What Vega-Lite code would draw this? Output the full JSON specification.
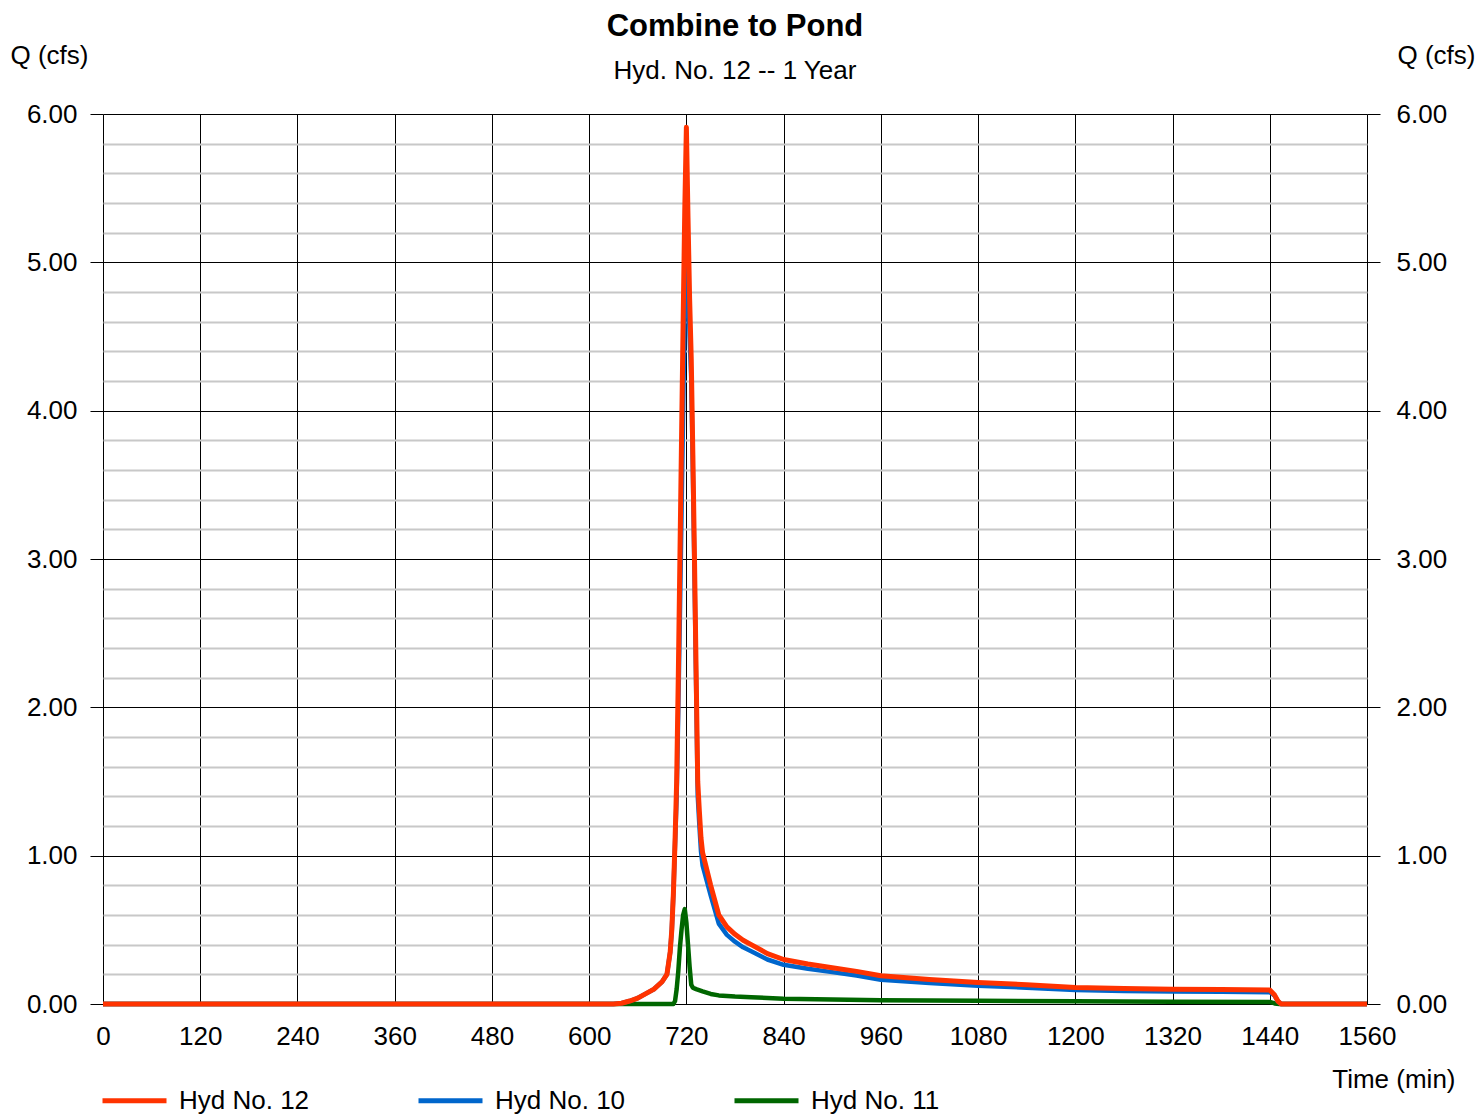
{
  "$schema": "https://vega.github.io/schema/vega-lite/v6.json",
  "autosize": "none",
  "width": 1264,
  "height": 890,
  "padding": {"left": 103, "top": 114, "right": 111, "bottom": 110},
  "background": "white",
  "config": {
    "font": "Liberation Sans",
    "view": {"stroke": null},
    "axis": {"labelColor": "black", "titleColor": "black", "labelFont": "Liberation Sans", "titleFont": "Liberation Sans"}
  },
  "title": {
    "text": "Combine to Pond",
    "subtitle": "Hyd. No. 12 -- 1 Year",
    "anchor": "middle",
    "font": "Liberation Sans",
    "fontSize": 31,
    "fontWeight": "bold",
    "color": "black",
    "subtitleFont": "Liberation Sans",
    "subtitleFontSize": 26,
    "subtitleColor": "black",
    "subtitlePadding": 15,
    "offset": -43
  },
  "data": {
    "values": [
      {"t": 0, "q": 0, "s": "Hyd No. 11"},
      {"t": 700, "q": 0, "s": "Hyd No. 11"},
      {"t": 704, "q": 0.0, "s": "Hyd No. 11"},
      {"t": 706, "q": 0.02, "s": "Hyd No. 11"},
      {"t": 708, "q": 0.1, "s": "Hyd No. 11"},
      {"t": 710, "q": 0.22, "s": "Hyd No. 11"},
      {"t": 712, "q": 0.38, "s": "Hyd No. 11"},
      {"t": 714, "q": 0.5, "s": "Hyd No. 11"},
      {"t": 716, "q": 0.6, "s": "Hyd No. 11"},
      {"t": 718, "q": 0.64, "s": "Hyd No. 11"},
      {"t": 720, "q": 0.55, "s": "Hyd No. 11"},
      {"t": 722, "q": 0.4, "s": "Hyd No. 11"},
      {"t": 724, "q": 0.25, "s": "Hyd No. 11"},
      {"t": 726, "q": 0.13, "s": "Hyd No. 11"},
      {"t": 728, "q": 0.11, "s": "Hyd No. 11"},
      {"t": 732, "q": 0.1, "s": "Hyd No. 11"},
      {"t": 740, "q": 0.085, "s": "Hyd No. 11"},
      {"t": 750, "q": 0.068, "s": "Hyd No. 11"},
      {"t": 760, "q": 0.058, "s": "Hyd No. 11"},
      {"t": 780, "q": 0.05, "s": "Hyd No. 11"},
      {"t": 800, "q": 0.045, "s": "Hyd No. 11"},
      {"t": 840, "q": 0.036, "s": "Hyd No. 11"},
      {"t": 900, "q": 0.03, "s": "Hyd No. 11"},
      {"t": 960, "q": 0.026, "s": "Hyd No. 11"},
      {"t": 1080, "q": 0.022, "s": "Hyd No. 11"},
      {"t": 1200, "q": 0.018, "s": "Hyd No. 11"},
      {"t": 1320, "q": 0.016, "s": "Hyd No. 11"},
      {"t": 1440, "q": 0.014, "s": "Hyd No. 11"},
      {"t": 1446, "q": 0.004, "s": "Hyd No. 11"},
      {"t": 1452, "q": 0, "s": "Hyd No. 11"},
      {"t": 1560, "q": 0, "s": "Hyd No. 11"},

      {"t": 0, "q": 0, "s": "Hyd No. 10"},
      {"t": 630, "q": 0, "s": "Hyd No. 10"},
      {"t": 640, "q": 0.005, "s": "Hyd No. 10"},
      {"t": 650, "q": 0.02, "s": "Hyd No. 10"},
      {"t": 660, "q": 0.04, "s": "Hyd No. 10"},
      {"t": 670, "q": 0.07, "s": "Hyd No. 10"},
      {"t": 680, "q": 0.1, "s": "Hyd No. 10"},
      {"t": 690, "q": 0.15, "s": "Hyd No. 10"},
      {"t": 696, "q": 0.2, "s": "Hyd No. 10"},
      {"t": 700, "q": 0.35, "s": "Hyd No. 10"},
      {"t": 702, "q": 0.5, "s": "Hyd No. 10"},
      {"t": 704, "q": 0.75, "s": "Hyd No. 10"},
      {"t": 706, "q": 1.08, "s": "Hyd No. 10"},
      {"t": 708, "q": 1.4, "s": "Hyd No. 10"},
      {"t": 710, "q": 1.98, "s": "Hyd No. 10"},
      {"t": 712, "q": 2.62, "s": "Hyd No. 10"},
      {"t": 714, "q": 3.3, "s": "Hyd No. 10"},
      {"t": 716, "q": 4.0, "s": "Hyd No. 10"},
      {"t": 718, "q": 4.71, "s": "Hyd No. 10"},
      {"t": 720, "q": 5.36, "s": "Hyd No. 10"},
      {"t": 722, "q": 4.9, "s": "Hyd No. 10"},
      {"t": 724, "q": 4.5, "s": "Hyd No. 10"},
      {"t": 726, "q": 4.22, "s": "Hyd No. 10"},
      {"t": 728, "q": 3.59, "s": "Hyd No. 10"},
      {"t": 730, "q": 2.9, "s": "Hyd No. 10"},
      {"t": 732, "q": 2.15, "s": "Hyd No. 10"},
      {"t": 734, "q": 1.405, "s": "Hyd No. 10"},
      {"t": 736, "q": 1.208, "s": "Hyd No. 10"},
      {"t": 738, "q": 1.03, "s": "Hyd No. 10"},
      {"t": 740, "q": 0.935, "s": "Hyd No. 10"},
      {"t": 750, "q": 0.732, "s": "Hyd No. 10"},
      {"t": 760, "q": 0.542, "s": "Hyd No. 10"},
      {"t": 770, "q": 0.466, "s": "Hyd No. 10"},
      {"t": 780, "q": 0.42, "s": "Hyd No. 10"},
      {"t": 790, "q": 0.382, "s": "Hyd No. 10"},
      {"t": 800, "q": 0.355, "s": "Hyd No. 10"},
      {"t": 820, "q": 0.3, "s": "Hyd No. 10"},
      {"t": 840, "q": 0.264, "s": "Hyd No. 10"},
      {"t": 870, "q": 0.237, "s": "Hyd No. 10"},
      {"t": 900, "q": 0.215, "s": "Hyd No. 10"},
      {"t": 930, "q": 0.192, "s": "Hyd No. 10"},
      {"t": 960, "q": 0.164, "s": "Hyd No. 10"},
      {"t": 1020, "q": 0.141, "s": "Hyd No. 10"},
      {"t": 1080, "q": 0.123, "s": "Hyd No. 10"},
      {"t": 1140, "q": 0.11, "s": "Hyd No. 10"},
      {"t": 1200, "q": 0.094, "s": "Hyd No. 10"},
      {"t": 1260, "q": 0.088, "s": "Hyd No. 10"},
      {"t": 1320, "q": 0.084, "s": "Hyd No. 10"},
      {"t": 1380, "q": 0.082, "s": "Hyd No. 10"},
      {"t": 1440, "q": 0.08, "s": "Hyd No. 10"},
      {"t": 1446, "q": 0.056, "s": "Hyd No. 10"},
      {"t": 1450, "q": 0.018, "s": "Hyd No. 10"},
      {"t": 1454, "q": 0, "s": "Hyd No. 10"},
      {"t": 1560, "q": 0, "s": "Hyd No. 10"},

      {"t": 0, "q": 0, "s": "Hyd No. 12"},
      {"t": 630, "q": 0, "s": "Hyd No. 12"},
      {"t": 640, "q": 0.005, "s": "Hyd No. 12"},
      {"t": 650, "q": 0.02, "s": "Hyd No. 12"},
      {"t": 660, "q": 0.04, "s": "Hyd No. 12"},
      {"t": 670, "q": 0.07, "s": "Hyd No. 12"},
      {"t": 680, "q": 0.1, "s": "Hyd No. 12"},
      {"t": 690, "q": 0.15, "s": "Hyd No. 12"},
      {"t": 696, "q": 0.2, "s": "Hyd No. 12"},
      {"t": 700, "q": 0.35, "s": "Hyd No. 12"},
      {"t": 702, "q": 0.5, "s": "Hyd No. 12"},
      {"t": 704, "q": 0.75, "s": "Hyd No. 12"},
      {"t": 706, "q": 1.1, "s": "Hyd No. 12"},
      {"t": 708, "q": 1.5, "s": "Hyd No. 12"},
      {"t": 710, "q": 2.2, "s": "Hyd No. 12"},
      {"t": 712, "q": 3.0, "s": "Hyd No. 12"},
      {"t": 714, "q": 3.8, "s": "Hyd No. 12"},
      {"t": 716, "q": 4.6, "s": "Hyd No. 12"},
      {"t": 718, "q": 5.35, "s": "Hyd No. 12"},
      {"t": 720, "q": 5.91, "s": "Hyd No. 12"},
      {"t": 722, "q": 5.3, "s": "Hyd No. 12"},
      {"t": 724, "q": 4.75, "s": "Hyd No. 12"},
      {"t": 726, "q": 4.35, "s": "Hyd No. 12"},
      {"t": 728, "q": 3.7, "s": "Hyd No. 12"},
      {"t": 730, "q": 3.0, "s": "Hyd No. 12"},
      {"t": 732, "q": 2.25, "s": "Hyd No. 12"},
      {"t": 734, "q": 1.5, "s": "Hyd No. 12"},
      {"t": 736, "q": 1.3, "s": "Hyd No. 12"},
      {"t": 738, "q": 1.12, "s": "Hyd No. 12"},
      {"t": 740, "q": 1.02, "s": "Hyd No. 12"},
      {"t": 750, "q": 0.8, "s": "Hyd No. 12"},
      {"t": 760, "q": 0.6, "s": "Hyd No. 12"},
      {"t": 770, "q": 0.52, "s": "Hyd No. 12"},
      {"t": 780, "q": 0.47, "s": "Hyd No. 12"},
      {"t": 790, "q": 0.43, "s": "Hyd No. 12"},
      {"t": 800, "q": 0.4, "s": "Hyd No. 12"},
      {"t": 820, "q": 0.34, "s": "Hyd No. 12"},
      {"t": 840, "q": 0.3, "s": "Hyd No. 12"},
      {"t": 870, "q": 0.27, "s": "Hyd No. 12"},
      {"t": 900, "q": 0.245, "s": "Hyd No. 12"},
      {"t": 930, "q": 0.22, "s": "Hyd No. 12"},
      {"t": 960, "q": 0.19, "s": "Hyd No. 12"},
      {"t": 1020, "q": 0.165, "s": "Hyd No. 12"},
      {"t": 1080, "q": 0.145, "s": "Hyd No. 12"},
      {"t": 1140, "q": 0.13, "s": "Hyd No. 12"},
      {"t": 1200, "q": 0.112, "s": "Hyd No. 12"},
      {"t": 1260, "q": 0.105, "s": "Hyd No. 12"},
      {"t": 1320, "q": 0.1, "s": "Hyd No. 12"},
      {"t": 1380, "q": 0.097, "s": "Hyd No. 12"},
      {"t": 1440, "q": 0.094, "s": "Hyd No. 12"},
      {"t": 1446, "q": 0.06, "s": "Hyd No. 12"},
      {"t": 1450, "q": 0.02, "s": "Hyd No. 12"},
      {"t": 1454, "q": 0, "s": "Hyd No. 12"},
      {"t": 1560, "q": 0, "s": "Hyd No. 12"}
    ]
  },
  "encoding": {
    "x": {
      "field": "t",
      "type": "quantitative",
      "scale": {"domain": [0, 1560], "nice": false, "zero": false},
      "axis": {
        "values": [0, 120, 240, 360, 480, 600, 720, 840, 960, 1080, 1200, 1320, 1440, 1560],
        "format": "d",
        "grid": true,
        "gridColor": "black",
        "gridWidth": 1,
        "gridOpacity": 1,
        "domain": false,
        "ticks": false,
        "tickSize": 0,
        "labelPadding": 19,
        "labelFontSize": 26,
        "labelFlush": false,
        "labelOverlap": false,
        "title": "Time (min)",
        "titleFontSize": 26,
        "titleFontWeight": "normal",
        "titleAngle": 0,
        "titleAlign": "right",
        "titleBaseline": "alphabetic",
        "titleAnchor": null,
        "titleX": 1352,
        "titleY": 83
      }
    },
    "color": {
      "field": "s",
      "type": "nominal",
      "scale": {"domain": ["Hyd No. 12", "Hyd No. 10", "Hyd No. 11"], "range": ["#FF3300", "#0066CC", "#006600"]},
      "legend": {
        "orient": "none",
        "direction": "horizontal",
        "legendX": -3,
        "legendY": 952,
        "title": null,
        "symbolType": "stroke",
        "symbolSize": 4096,
        "symbolStrokeWidth": 5,
        "labelFontSize": 26,
        "labelFont": "Liberation Sans",
        "labelColor": "black",
        "labelOffset": 10,
        "columnPadding": 98,
        "labelLimit": 400
      }
    }
  },
  "layer": [
    {
      "transform": [{"filter": "datum.s === 'Hyd No. 11'"}],
      "mark": {"type": "line", "strokeWidth": 4.5, "strokeCap": "butt", "strokeJoin": "round"},
      "encoding": {
        "y": {
          "field": "q",
          "type": "quantitative",
          "scale": {"domain": [0, 6], "nice": false, "zero": true},
          "axis": {
            "orient": "left",
            "values": [0, 0.2, 0.4, 0.6, 0.8, 1, 1.2, 1.4, 1.6, 1.8, 2, 2.2, 2.4, 2.6, 2.8, 3, 3.2, 3.4, 3.6, 3.8, 4, 4.2, 4.4, 4.6, 4.8, 5, 5.2, 5.4, 5.6, 5.8, 6],
            "grid": true,
            "gridColor": {"condition": {"test": "abs(datum.value - round(datum.value)) < 0.001", "value": "black"}, "value": "#c8c8c8"},
            "gridWidth": {"condition": {"test": "abs(datum.value - round(datum.value)) < 0.001", "value": 1}, "value": 2},
            "gridOpacity": 1,
            "domain": false,
            "tickColor": {"condition": {"test": "abs(datum.value - round(datum.value)) < 0.001", "value": "black"}, "value": "transparent"},
            "tickSize": 13,
            "tickWidth": 1,
            "labelPadding": 13,
            "labelFontSize": 26,
            "labelExpr": "abs(datum.value - round(datum.value)) < 0.001 ? format(datum.value, '.2f') : ''",
            "labelOverlap": false,
            "labelFlush": false,
            "title": "Q (cfs)",
            "titleFontSize": 26,
            "titleFontWeight": "normal",
            "titleAngle": 0,
            "titleAlign": "left",
            "titleBaseline": "alphabetic",
            "titleAnchor": null,
            "titleX": -93,
            "titleY": -51
          }
        }
      }
    },
    {
      "transform": [{"filter": "datum.s === 'Hyd No. 10'"}],
      "mark": {"type": "line", "strokeWidth": 4.5, "strokeCap": "butt", "strokeJoin": "round"},
      "encoding": {
        "y": {
          "field": "q",
          "type": "quantitative",
          "scale": {"domain": [0, 6], "nice": false, "zero": true},
          "axis": {
            "orient": "right",
            "values": [0, 1, 2, 3, 4, 5, 6],
            "grid": false,
            "domain": false,
            "tickColor": "black",
            "tickSize": 13,
            "tickWidth": 1,
            "labelPadding": 16,
            "labelFontSize": 26,
            "format": ".2f",
            "labelOverlap": false,
            "labelFlush": false,
            "title": "Q (cfs)",
            "titleFontSize": 26,
            "titleFontWeight": "normal",
            "titleAngle": 0,
            "titleAlign": "left",
            "titleBaseline": "alphabetic",
            "titleAnchor": null,
            "titleX": 30,
            "titleY": -51
          }
        }
      }
    },
    {
      "transform": [{"filter": "datum.s === 'Hyd No. 12'"}],
      "mark": {"type": "line", "strokeWidth": 5, "strokeCap": "butt", "strokeJoin": "round"},
      "encoding": {
        "y": {
          "field": "q",
          "type": "quantitative",
          "scale": {"domain": [0, 6], "nice": false, "zero": true},
          "axis": null
        }
      }
    }
  ],
  "resolve": {"axis": {"y": "independent"}}
}
